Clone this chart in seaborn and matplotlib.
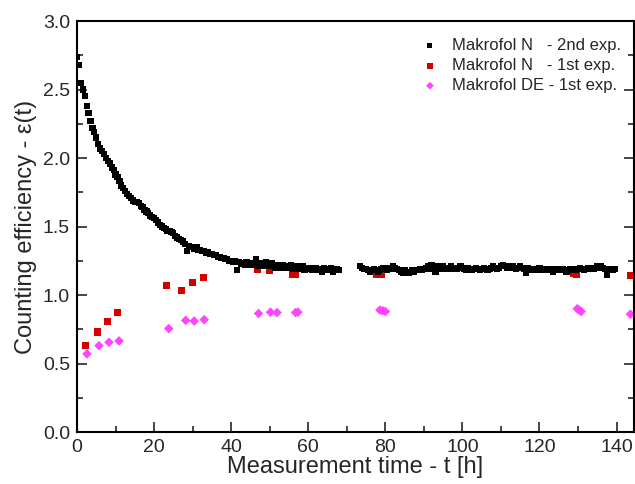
import numpy as np
import pandas as pd
import matplotlib
matplotlib.use('Agg')
import matplotlib.pyplot as plt
import seaborn as sns
from matplotlib.ticker import MultipleLocator

# Makrofol N - 2nd exp. : measured every 0.5 h, gap between 68 h and 73.5 h
t_n2_a = np.arange(0, 68.01, 0.5)
eff_n2_a = [
    2.74, 2.68, 2.55, 2.50, 2.45, 2.38, 2.33, 2.27, 2.22, 2.19,
    2.15, 2.10, 2.07, 2.05, 2.03, 2.00, 1.98, 1.96, 1.93, 1.91,
    1.88, 1.86, 1.83, 1.80, 1.78, 1.76, 1.74, 1.72, 1.71, 1.69,
    1.68, 1.68, 1.67, 1.65, 1.64, 1.62, 1.61, 1.60, 1.58, 1.57,
    1.56, 1.55, 1.53, 1.51, 1.50, 1.49, 1.48, 1.47, 1.47, 1.46,
    1.45, 1.43, 1.42, 1.41, 1.40, 1.39, 1.37, 1.32, 1.36, 1.35,
    1.35, 1.34, 1.35, 1.33, 1.33, 1.32, 1.32, 1.31, 1.31, 1.30,
    1.30, 1.29, 1.29, 1.28, 1.28, 1.27, 1.27, 1.26, 1.26, 1.25,
    1.25, 1.24, 1.25, 1.18, 1.24, 1.23, 1.23, 1.22, 1.24, 1.22,
    1.23, 1.22, 1.22, 1.26, 1.21, 1.23, 1.22, 1.21, 1.24, 1.22,
    1.21, 1.23, 1.21, 1.20, 1.22, 1.21, 1.20, 1.22, 1.21, 1.20,
    1.21, 1.22, 1.19, 1.20, 1.21, 1.19, 1.20, 1.21, 1.18, 1.20,
    1.19, 1.20, 1.18, 1.19, 1.20, 1.18, 1.19, 1.17, 1.20, 1.19,
    1.18, 1.19, 1.20, 1.17, 1.18, 1.19, 1.18,
]
t_n2_b = np.arange(73.5, 139.51, 0.5)
eff_n2_b = [
    1.21, 1.20, 1.19, 1.19, 1.18, 1.17, 1.18, 1.19, 1.18, 1.17,
    1.18, 1.19, 1.20, 1.19, 1.18, 1.20, 1.19, 1.21, 1.20, 1.19,
    1.18, 1.17, 1.16, 1.18, 1.17, 1.16, 1.17, 1.18, 1.17, 1.18,
    1.18, 1.19, 1.18, 1.19, 1.20, 1.21, 1.19, 1.22, 1.20, 1.17,
    1.21, 1.20, 1.19, 1.21, 1.20, 1.19, 1.20, 1.21, 1.19, 1.20,
    1.19, 1.20, 1.21, 1.20, 1.19, 1.18, 1.20, 1.19, 1.18, 1.19,
    1.20, 1.19, 1.18, 1.19, 1.20, 1.19, 1.18, 1.19, 1.20, 1.21,
    1.20, 1.19, 1.20, 1.21, 1.22, 1.21, 1.20, 1.21, 1.20, 1.21,
    1.20, 1.19, 1.20, 1.21, 1.20, 1.19, 1.16, 1.20, 1.19, 1.18,
    1.19, 1.18, 1.19, 1.20, 1.18, 1.19, 1.18, 1.19, 1.18, 1.19,
    1.17, 1.19, 1.18, 1.19, 1.18, 1.19, 1.18, 1.17, 1.18, 1.19,
    1.18, 1.19, 1.18, 1.19, 1.20, 1.19, 1.18, 1.19, 1.20, 1.19,
    1.20, 1.19, 1.20, 1.21, 1.20, 1.21, 1.20, 1.19, 1.15, 1.18,
    1.19, 1.18, 1.19,
]

# Makrofol N - 1st exp.
t_n1 = [2.3, 5.4, 8.0, 10.5, 23.3, 27.0, 30.0, 32.7, 46.8, 50.0, 56.0, 56.7,
        77.7, 78.3, 78.9, 128.8, 129.5, 143.5]
eff_n1 = [0.63, 0.73, 0.81, 0.87, 1.07, 1.03, 1.09, 1.13, 1.19, 1.18, 1.15, 1.15,
          1.15, 1.16, 1.15, 1.16, 1.15, 1.14]

# Makrofol DE - 1st exp.
t_de1 = [2.6, 5.7, 8.3, 10.9, 23.8, 28.2, 30.4, 33.0, 47.1, 50.2, 51.9, 56.7, 57.3,
         78.6, 79.3, 80.0, 129.8, 130.3, 130.8, 143.6]
eff_de1 = [0.57, 0.63, 0.655, 0.665, 0.755, 0.815, 0.81, 0.82, 0.865, 0.875, 0.872,
           0.872, 0.875, 0.89, 0.885, 0.88, 0.90, 0.89, 0.88, 0.86]

labels = ['Makrofol N   - 2nd exp.', 'Makrofol N   - 1st exp.', 'Makrofol DE - 1st exp.']

n2 = pd.DataFrame({'t': np.concatenate([t_n2_a, t_n2_b]),
                   'eff': eff_n2_a + eff_n2_b})
n1 = pd.DataFrame({'t': t_n1, 'eff': eff_n1})
de1 = pd.DataFrame({'t': t_de1, 'eff': eff_de1})

sns.set_style('ticks')
plt.rcParams['font.family'] = ['Liberation Sans', 'DejaVu Sans']

fig = plt.figure(figsize=(6.35, 4.84), dpi=100)
ax = fig.add_axes([0.1213, 0.1074, 0.877, 0.8492])

sns.scatterplot(data=n2, x='t', y='eff', marker='s', s=20, color='black',
                edgecolor='none', label=labels[0], ax=ax, zorder=3)
sns.scatterplot(data=n1, x='t', y='eff', marker='s', s=26, color='#d40000',
                edgecolor='none', label=labels[1], ax=ax, zorder=2)
sns.scatterplot(data=de1, x='t', y='eff', marker='D', s=24, color='#ff44ff',
                edgecolor='none', label=labels[2], ax=ax, zorder=2)

ax.set_xlim(0, 144.5)
ax.set_ylim(0, 3.0)
ax.xaxis.set_major_locator(MultipleLocator(20))
ax.xaxis.set_minor_locator(MultipleLocator(10))
ax.yaxis.set_major_locator(MultipleLocator(0.5))
ax.yaxis.set_minor_locator(MultipleLocator(0.25))
ax.yaxis.set_major_formatter(matplotlib.ticker.FormatStrFormatter('%.1f'))

for s in ax.spines.values():
    s.set_visible(True)
    s.set_linewidth(1.5)
    s.set_color('black')
ax.tick_params(which='both', direction='in', width=1.2, labelsize=14,
               left=True, right=True, top=False, bottom=True, pad=5)
ax.tick_params(which='major', length=7)
ax.tick_params(which='minor', length=4)

ax.set_xlabel('Measurement time - t [h]', fontsize=17, labelpad=0)
ax.set_ylabel('Counting efficiency - ε(t)', fontsize=17, labelpad=4)

leg = ax.legend(loc='upper right', frameon=False, fontsize=12,
                handletextpad=0.3, labelspacing=0.3, markerscale=0.8,
                borderaxespad=0.5, bbox_to_anchor=(1.003, 0.995))

fig.savefig('out.png', dpi=100)
